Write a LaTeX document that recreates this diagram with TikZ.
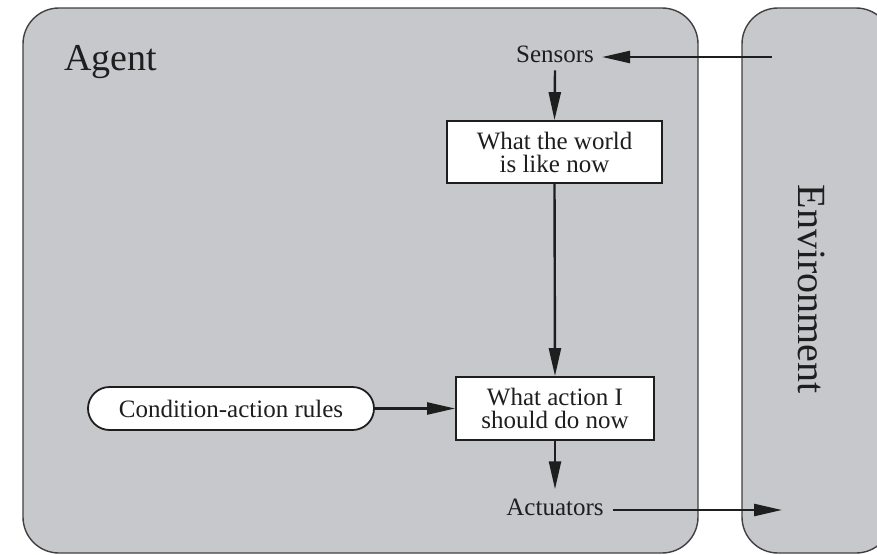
\documentclass[tikz,border=0pt]{standalone}
\usepackage{fontspec}
\setmainfont{Liberation Serif}
\usetikzlibrary{arrows.meta,shapes.misc}
\definecolor{panelgray}{RGB}{199,200,204}
\definecolor{ink}{RGB}{30,30,30}
\begin{document}
\begin{tikzpicture}[x=1pt,y=-1pt,
  panel/.style={draw=ink!85,line width=1.4pt,fill=panelgray,rounded corners=36pt},
  boxnode/.style={draw=ink,line width=1.8pt,fill=white,align=center,font=\fontsize{25}{23}\selectfont,text=ink,inner sep=0pt},
  plain/.style={font=\fontsize{25}{23}\selectfont,text=ink},
  conn/.style={draw=ink,line width=2.4pt,-{Triangle[length=28pt,width=12pt]}}]
\useasboundingbox (0,0) rectangle (877,554);
\clip (0,0) rectangle (877,554);
\fill[white] (0,0) rectangle (877,554);
\draw[panel] (23,8) rectangle (698,553);
\draw[panel] (742,8) rectangle (892,553);
\node[anchor=base west,font=\fontsize{38}{40}\selectfont,text=ink,inner sep=0pt] (agent) at (64,70) {Agent};
\node[font=\fontsize{40}{42}\selectfont,text=ink,rotate=-90,inner sep=0pt] (env) at (812,289) {Environment};
\node[plain,anchor=base,inner sep=8pt] (sensors) at (555,62) {Sensors};
\node[boxnode,minimum width=215pt,minimum height=62pt] (world) at (554.5,152) {What the world\\is like now};
\node[boxnode,minimum width=198pt,minimum height=63pt] (action) at (555,408.5) {What action I\\should do now};
\node[boxnode,rounded rectangle,minimum width=286pt,minimum height=43pt] (rules) at (231,408.5) {Condition-action rules};
\node[plain,anchor=base,inner sep=9pt] (actuators) at (555,515) {Actuators};
\coordinate (sin) at (772,57);
\coordinate (aout) at (782,510);
\draw[conn] (sin) -- (sin -| sensors.east);
\draw[conn] (sensors.south) -- (world.north);
\draw[conn] (world.south) -- (action.north);
\draw[conn] (rules.east) -- (action.west);
\draw[conn] (action.south) -- (actuators.north);
\draw[conn] (actuators.east |- aout) -- (aout);
\end{tikzpicture}
\end{document}
